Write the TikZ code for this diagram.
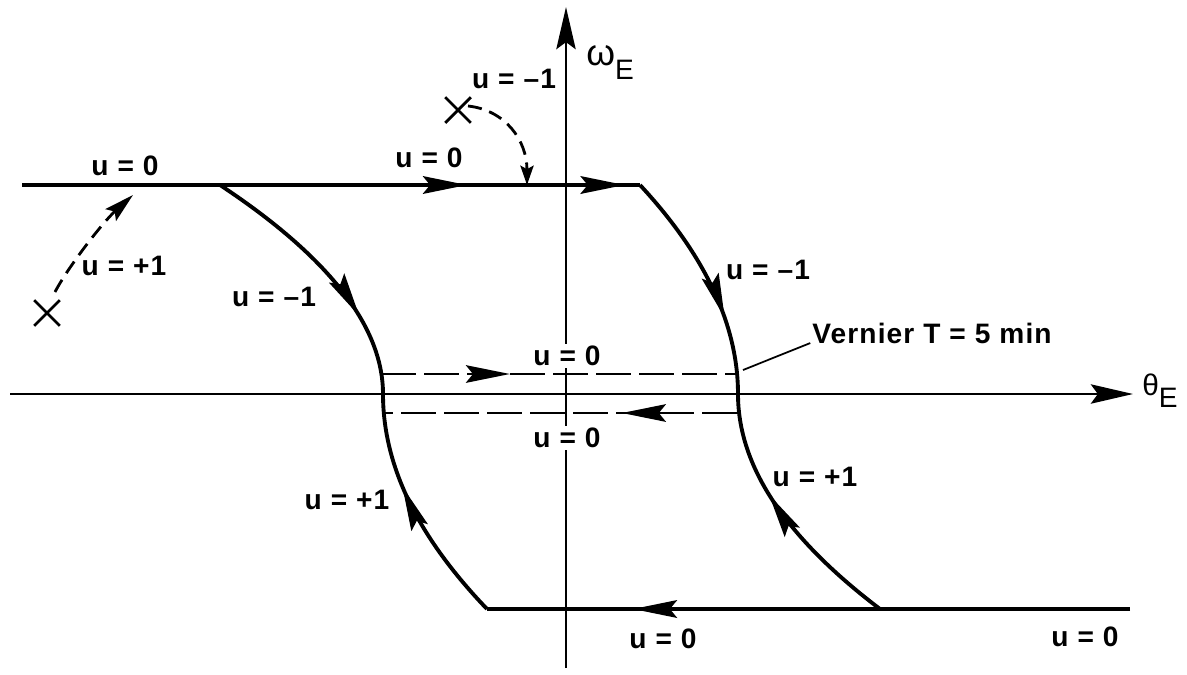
\documentclass[tikz,border=0pt]{standalone}
\usepackage{fontspec}
\setmainfont{Liberation Sans}[LetterSpace=4]
\usetikzlibrary{arrows.meta, decorations.markings, shapes.misc}
\tikzset{
  bigtip/.tip={Stealth[length=25pt,width=10pt,inset=4pt]},
  axistip/.tip={Stealth[length=24pt,width=11pt,inset=4pt]},
  midtip/.style={postaction={decorate,decoration={markings,mark=at position #1 with {\arrow{bigtip}}}}},
  axisline/.style={line width=1.4pt},
  traj/.style={line width=2.2pt},
  chatter/.style={line width=1.5pt, dash pattern=on 20pt off 4.5pt},
  startarc/.style={line width=1.6pt, dash pattern=on 8pt off 4.5pt},
  xmark/.style={cross out, draw, line width=1.6pt, minimum size=13pt, inner sep=0pt},
  lab/.style={font=\fontsize{16}{19}\selectfont\bfseries, inner sep=1pt},
  axlab/.style={font=\fontsize{16}{19}\selectfont, inner sep=0pt},
}

\begin{document}
\begin{tikzpicture}[x=0.02cm, y=-0.02cm]
    \useasboundingbox (0,0) rectangle (1187,674);
    % axes
    \coordinate (xl) at (10,394);
    \coordinate (xr) at (1133,394);
    \coordinate (yb) at (566,668);
    \coordinate (yt) at (566,7);
    \draw[axisline, -{axistip}] (xl) -- (xr);
    \draw[axisline, -{axistip}] (yb) -- (yt);
    \node[axlab, anchor=base west] (th) at (1142,395) {{\fontsize{17}{19}\selectfont θ}\raisebox{-0.45em}{E}};
    \node[axlab, anchor=base west] (om) at (586,65) {{\fontsize{21}{19}\selectfont ω}\raisebox{-0.5em}{E}};
    % switching points
    \coordinate (tl) at (22,185);
    \coordinate (ul) at (220,185);
    \coordinate (tc) at (640,185);
    \coordinate (lv) at (383,394);
    \coordinate (rv) at (738,394);
    \coordinate (lb) at (487,609);
    \coordinate (rb) at (880,609);
    \coordinate (br) at (1130,609);
    % trajectories
    \draw[traj, midtip=0.72, midtip=0.975] (tl) -- (tc);
    \draw[traj, midtip=0.70] (ul) .. controls (326,255) and (383,325) .. (lv);
    \draw[traj, midtip=0.67] (tc) .. controls (705,255) and (738,325) .. (rv);
    \draw[traj, midtip=0.773] (br) -- (lb);
    \draw[traj, midtip=0.61] (lb) .. controls (418,537) and (383,466) .. (lv);
    \draw[traj, midtip=0.60] (rb) .. controls (785,537) and (738,466) .. (rv);
    % limit cycle
    \coordinate (dul) at (381,374);
    \coordinate (dur) at (737,374);
    \coordinate (dlr) at (737,413);
    \coordinate (dll) at (384,413);
    \draw[chatter, midtip=0.362] (dul) -- (dur);
    \draw[chatter, midtip=0.326] (dlr) -- (dll);
    % initial states
    \node[xmark] (x1) at (47,313) {};
    \node[xmark] (x2) at (458,110) {};
    \coordinate (a1s) at (55,292);
    \coordinate (a1e) at (133,195);
    \coordinate (a2s) at (468,106);
    \coordinate (a2e) at (527,185);
    \draw[startarc, -{Stealth[length=17pt,width=9pt,inset=3pt]}] (a1s) .. controls (68,267) and (103,222) .. (a1e);
    \draw[startarc, -{Stealth[length=11pt,width=7.5pt,inset=2pt]}] (a2s) .. controls (505,110) and (527,140) .. (a2e);
    % labels
    \node[lab] (u0a) at (125,166) {u = 0};
    \node[lab] (u0b) at (429,158) {u = 0};
    \node[lab] (um1a) at (514,79) {u = \textendash 1};
    \node[lab] (up1a) at (124,266) {u = +1};
    \node[lab] (um1b) at (274,297) {u = \textendash 1};
    \node[lab] (um1c) at (768,270) {u = \textendash 1};
    \node[lab, fill=white] (u0c) at (567,356) {u = 0};
    \node[lab, fill=white] (u0d) at (567,438) {u = 0};
    \node[lab] (up1b) at (815,477) {u = +1};
    \node[lab] (up1c) at (347,500) {u = +1};
    \node[lab] (u0e) at (663,639) {u = 0};
    \node[lab] (u0f) at (1085,637) {u = 0};
    \node[lab] (vern) at (932,333) {Vernier T = 5 min};
    \coordinate (vpt) at (743,370);
    \draw[line width=1pt] (vpt) -- (vern.base west);
\end{tikzpicture}
\end{document}
